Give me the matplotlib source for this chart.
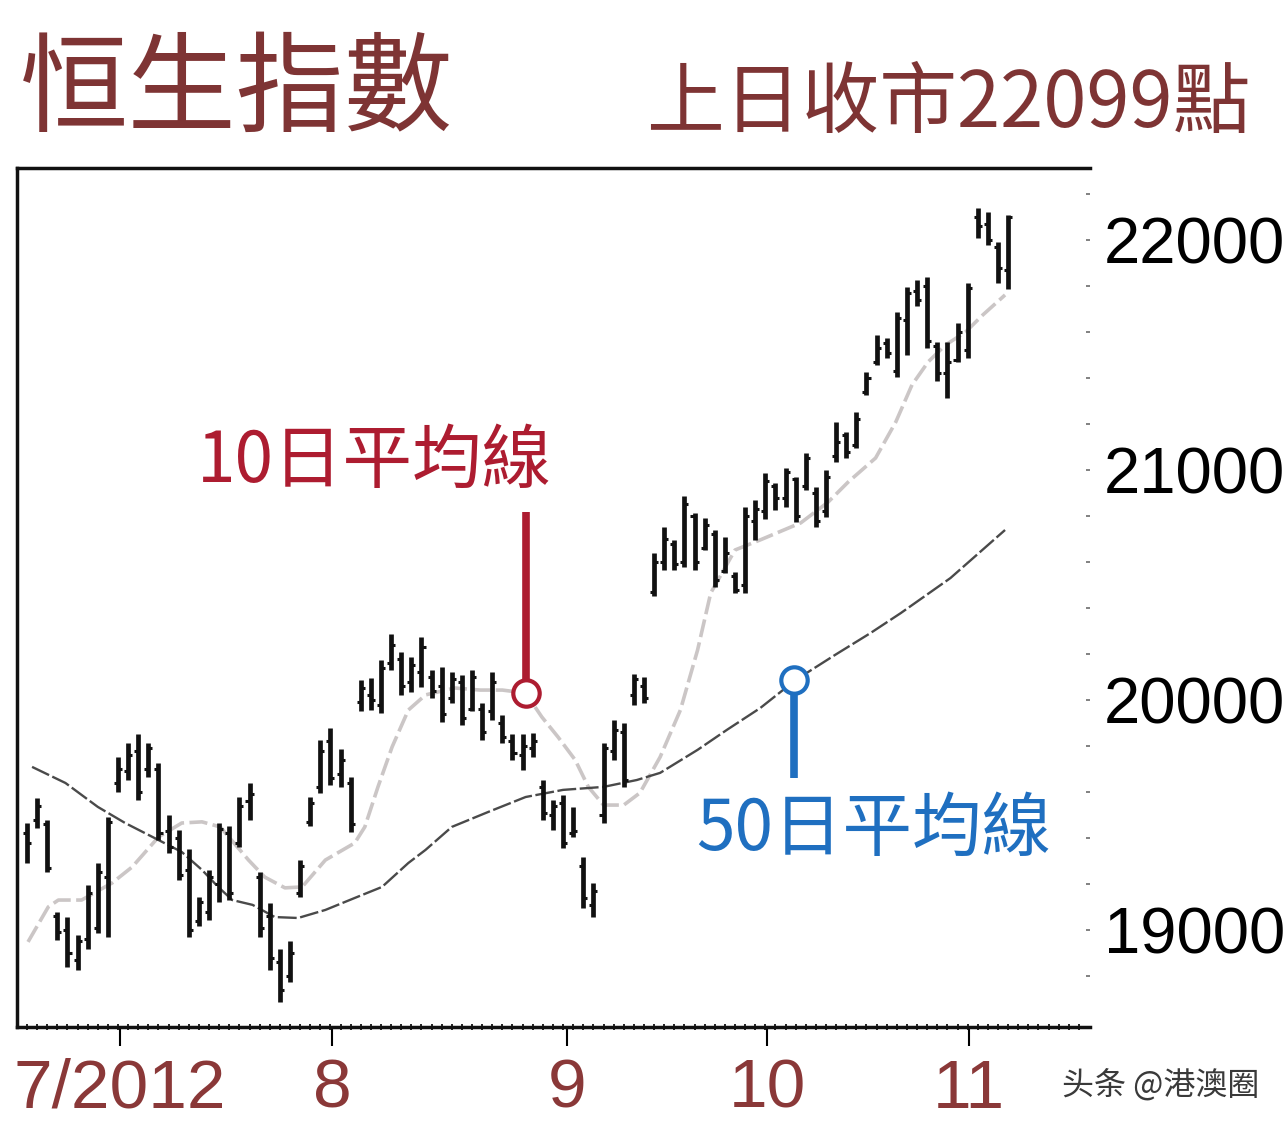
import matplotlib
matplotlib.use("Agg")
import matplotlib.pyplot as plt
import numpy as np

plt.rcParams['font.family'] = ['Noto Sans CJK TC', 'DejaVu Sans']

# 恒生指數 日線 (高, 低, 開, 收) - 讀自原圖
highs = [19465, 19575, 19480, 19080, 19055, 18980, 19195, 19290, 19490, 19750,
         19815, 19850, 19815, 19725, 19500, 19435, 19350, 19145, 19260, 19465,
         19450, 19580, 19640, 19250, 19115, 18915, 18950, 19305, 19580, 19825,
         19880, 19785, 19665, 20085, 20095, 20175, 20285, 20210, 20185, 20275,
         20130, 20145, 20120, 20110, 20130, 19985, 20120, 19935, 19850, 19850,
         19855, 19650, 19565, 19585, 19535, 19315, 19205, 19815, 19915, 19900,
         20115, 20100, 20640, 20750, 20695, 20885, 20815, 20790, 20740, 20710,
         20555, 20840, 20870, 20985, 20945, 21010, 20970, 21075, 20925, 21000,
         21210, 21165, 21250, 21425, 21585, 21575, 21685, 21795, 21825, 21840,
         21555, 21555, 21640, 21815, 22140, 22120, 21990, 22110]
lows = [19290, 19445, 19250, 18955, 18840, 18825, 18915, 18985, 18970, 19600,
        19650, 19565, 19665, 19390, 19335, 19215, 18970, 19015, 19045, 19120,
        19130, 19360, 19480, 18970, 18825, 18685, 18775, 19145, 19450, 19595,
        19630, 19620, 19425, 19950, 19955, 19945, 20130, 20020, 20035, 20055,
        20010, 19905, 19985, 19890, 19950, 19825, 19915, 19815, 19740, 19695,
        19750, 19480, 19435, 19355, 19405, 19095, 19055, 19465, 19740, 19620,
        19980, 19985, 20450, 20565, 20565, 20580, 20565, 20650, 20490, 20550,
        20465, 20465, 20695, 20785, 20825, 20840, 20775, 20915, 20750, 20795,
        21035, 21050, 21095, 21325, 21455, 21485, 21405, 21500, 21715, 21530,
        21385, 21315, 21470, 21485, 22010, 21980, 21815, 21785]
opens = [19420, 19480, 19460, 19060, 19000, 18870, 18960, 19010, 19230, 19640,
         19690, 19780, 19700, 19700, 19430, 19400, 19260, 19040, 19080, 19200,
         19420, 19380, 19560, 19230, 19060, 18860, 18800, 19160, 19470, 19620,
         19820, 19680, 19640, 19990, 20020, 19980, 20160, 20180, 20080, 20120,
         20100, 20060, 20010, 20080, 19960, 19960, 19950, 19900, 19820, 19760,
         19790, 19620, 19500, 19550, 19420, 19280, 19110, 19500, 19780, 19860,
         20020, 20060, 20470, 20600, 20680, 20600, 20800, 20660, 20720, 20560,
         20540, 20500, 20780, 20820, 20930, 20880, 20960, 20930, 20900, 20820,
         21060, 21150, 21110, 21340, 21470, 21550, 21430, 21650, 21780, 21800,
         21540, 21420, 21480, 21520, 22100, 22070, 21970, 21870]
closes = [19380, 19540, 19270, 18990, 18900, 18950, 19160, 19250, 19470, 19700,
          19760, 19600, 19790, 19420, 19360, 19240, 19000, 19120, 19230, 19440,
          19160, 19540, 19590, 19010, 18880, 18740, 18900, 19280, 19550, 19780,
          19660, 19740, 19460, 20050, 20000, 20140, 20240, 20060, 20150, 20230,
          20040, 19940, 20090, 19920, 20100, 19860, 20080, 19840, 19770, 19800,
          19820, 19510, 19540, 19380, 19430, 19140, 19170, 19790, 19870, 19650,
          20090, 20010, 20600, 20700, 20590, 20850, 20600, 20760, 20520, 20640,
          20480, 20800, 20830, 20950, 20880, 20990, 20800, 21050, 20780, 20970,
          21120, 21080, 21220, 21400, 21530, 21510, 21660, 21770, 21740, 21560,
          21420, 21470, 21600, 21790, 22060, 22000, 21880, 22099]

# 平均線 (交易日序號, 指數)
ma10_x = [0.1, 2.1, 3.1, 5.4, 8.4, 10.4, 13.0, 15.3, 17.3, 19.1, 21.9, 23.5,
          25.5, 27.2, 29.5, 32.4, 33.4, 34.7, 36.1, 37.7, 39.4, 42.3, 44.8, 47.0,
          49.3, 50.9, 52.5, 54.2, 55.5, 57.0, 59.0, 60.6, 62.6, 64.6, 66.3, 67.6,
          70.0, 72.5, 76.5, 79.2, 81.2, 83.9, 85.9, 87.5, 89.1, 90.8, 92.8, 94.5, 96.7]
ma10_y = [18948, 19100, 19130, 19130, 19204, 19274, 19404, 19465, 19470, 19448,
          19304, 19230, 19183, 19187, 19304, 19378, 19448, 19622, 19796, 19956,
          20022, 20052, 20043, 20043, 20030, 19926, 19839, 19739, 19622, 19543,
          19543, 19596, 19752, 19956, 20217, 20465, 20652, 20696, 20770, 20860,
          20948, 21052, 21209, 21370, 21470, 21543, 21600, 21674, 21761]
ma50_x = [0.5, 3.8, 7.0, 9.7, 13.0, 15.3, 17.3, 18.9, 20.3, 22.3, 24.5, 26.8,
          29.5, 32.4, 35.1, 37.7, 39.4, 42.0, 45.6, 49.3, 53.0, 57.0, 60.3, 62.6,
          66.3, 69.2, 72.5, 76.0, 79.9, 83.4, 86.4, 91.3, 96.7]
ma50_y = [19709, 19639, 19535, 19465, 19391, 19339, 19261, 19187, 19130, 19109,
          19056, 19052, 19087, 19139, 19187, 19291, 19348, 19448, 19513, 19578,
          19609, 19622, 19652, 19683, 19783, 19870, 19965, 20087, 20196, 20291,
          20378, 20530, 20739]

month_pos = [9.2, 30.2, 53.4, 73.2, 93.1]
month_labels = ['7/2012', '8', '9', '10', '11']

days = np.arange(len(highs))

fig = plt.figure(figsize=(12.86, 11.22), dpi=100)
ax = fig.add_axes([17/1286, 1 - 1027/1122, (1090 - 17)/1286, (1027 - 168)/1122])

# 平均線
ax.plot(ma10_x, ma10_y, color='#cbc6c6', lw=2.6, ls=(0, (5, 1.5)), zorder=2)
ax.plot(ma50_x, ma50_y, color='#4a4a4a', lw=1.7, ls=(0, (8, 1.5)), zorder=2)

# 美國線
ax.vlines(days, lows, highs, color='#111111', lw=3.4, zorder=3)
ax.hlines(opens, days - 0.4, days, color='#111111', lw=2.2, zorder=3)
ax.hlines(closes, days, days + 0.4, color='#111111', lw=2.2, zorder=3)

# 標示
red = '#ad1c30'
blue = '#1f6fc0'
ax.plot([49.3, 49.3], [20817, 20040], color=red, lw=5.5, solid_capstyle='butt', zorder=4)
ax.plot([49.3], [20030], marker='o', ms=19, mfc='white', mec=red, mew=3, zorder=5)
ax.text(34.3, 21035, '10日平均線', color=red, fontsize=50, ha='center', va='center')

ax.plot([75.8, 75.8], [20080, 19661], color=blue, lw=5.5, solid_capstyle='butt', zorder=4)
ax.plot([75.8], [20087], marker='o', ms=19, mfc='white', mec=blue, mew=3, zorder=5)
ax.text(83.7, 19435, '50日平均線', color=blue, fontsize=50, ha='center', va='center')

ax.set_xlim(-0.99, 105.1)
ax.set_ylim(18578, 22313)

for side in ['top', 'left', 'bottom']:
    ax.spines[side].set_linewidth(2.5)
    ax.spines[side].set_color('#111111')
ax.spines['right'].set_visible(False)

# x 軸
ax.set_xticks(month_pos)
ax.set_xticklabels(month_labels, fontsize=50, color='#8a3838', family='Liberation Sans')
ax.set_xticks(np.arange(0, 105), minor=True)
ax.tick_params(axis='x', which='major', length=14, width=1.5, direction='out', pad=8)
ax.tick_params(axis='x', which='minor', length=5, width=1.2, direction='inout')

# y 軸 (右邊)
ax.yaxis.tick_right()
ax.set_yticks([19000, 20000, 21000, 22000])
ax.set_yticklabels(['19000', '20000', '21000', '22000'], fontsize=47, family='Liberation Sans')
ax.set_yticks(np.arange(18800, 22300, 200), minor=True)
ax.tick_params(axis='y', which='both', length=3, width=1.3, direction='in', pad=10,
               right=True, left=False, color='#777777')

# 標題
title_color = '#7e3434'
fig.text(20/1286, 1 - 92/1122, '恒生指數', fontsize=78, color=title_color, ha='left', va='center',
         fontweight='light')
fig.text(1250/1286, 1 - 105/1122, '上日收市22099點', fontsize=56, color=title_color, ha='right', va='center',
         fontweight='light')

fig.text(1062/1286, 1 - 1085/1122, '头条 @港澳圈', fontsize=23, color='#3a3a3a', ha='left', va='center',
         family=['Noto Sans CJK SC', 'DejaVu Sans'])

plt.savefig('out.png', dpi=100)
